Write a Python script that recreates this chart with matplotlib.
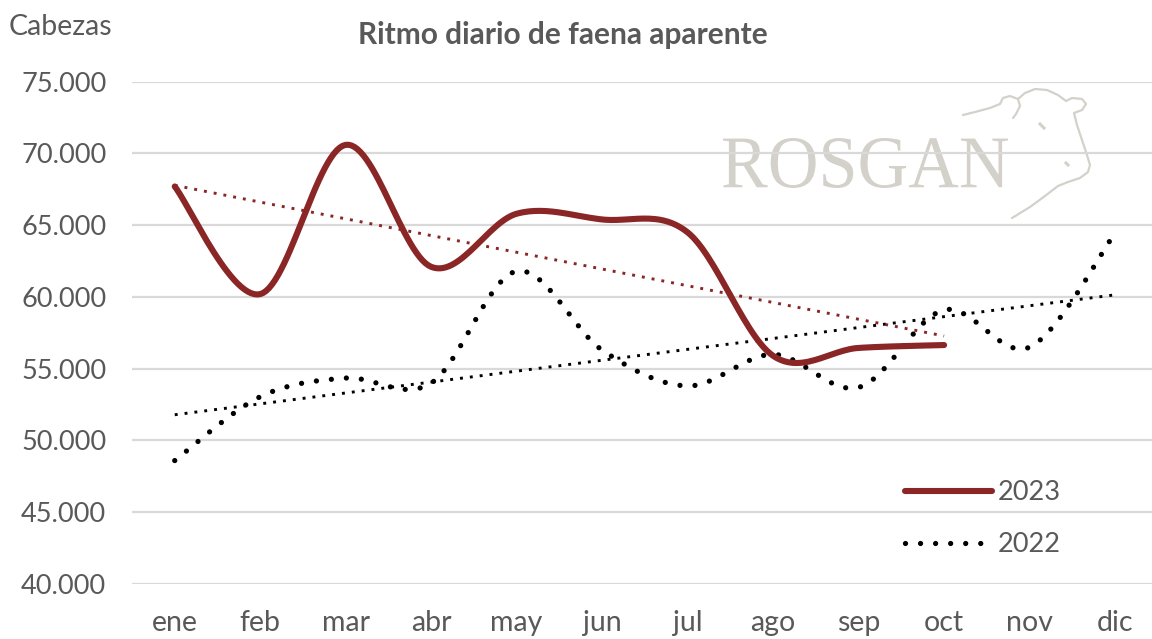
import numpy as np
import matplotlib
matplotlib.use("Agg")
import matplotlib.pyplot as plt
from matplotlib.lines import Line2D
from matplotlib.patches import Rectangle, PathPatch
from matplotlib.textpath import TextPath
from matplotlib.font_manager import FontProperties
from matplotlib.transforms import Affine2D, IdentityTransform

# ---------------- data ----------------
months = ["ene", "feb", "mar", "abr", "may", "jun", "jul", "ago", "sep", "oct", "nov", "dic"]
serie_2023 = [67700, 60200, 70600, 62100, 65800, 65400, 64500, 55900, 56450, 56650]
serie_2022 = [48600, 53050, 54350, 54000, 61800, 56300, 53800, 56000, 53700, 59100, 56500, 64450]
y_ticks = [40000, 45000, 50000, 55000, 60000, 65000, 70000, 75000]
title = "Ritmo diario de faena aparente"
y_title = "Cabezas"
labels = ["2023", "2022"]
watermark = "ROSGAN"

RED = "#8B2626"
GRAY_TXT = "#595959"
GRID = "#D9D9D9"
WM = "#D3D1CA"
FONT = "Lato"

W, H = 1152, 639
fig = plt.figure(figsize=(W / 100, H / 100), dpi=100)


def px(x, y):
    return x / W, 1 - y / H


left, right_edge, top, bottom = 132, 1157.8, 81.7, 584
ax = fig.add_axes([left / W, (H - bottom) / H, (right_edge - left) / W, (bottom - top) / H])
ax.set_xlim(-0.5, 11.5)
ax.set_ylim(40000, 75000)
for s in ax.spines.values():
    s.set_visible(False)
ax.set_yticks(y_ticks)
ax.set_yticklabels([f"{v:,}".replace(",", ".") for v in y_ticks])
ax.set_xticks(range(len(months)))
ax.set_xticklabels(months)
ax.tick_params(length=0, colors=GRAY_TXT)
ax.tick_params(axis="y", pad=18.5, labelsize=19.5)
ax.tick_params(axis="x", pad=19, labelsize=20.5)
for lab in ax.get_xticklabels() + ax.get_yticklabels():
    lab.set_fontfamily(FONT)
ax.grid(axis="y", color=GRID, lw=1.6, zorder=0)
ax.set_axisbelow(True)


def smooth(xs, ys, n=30):
    pts = np.column_stack([xs, ys]).astype(float)
    P = np.vstack([pts[0], pts, pts[-1]])
    out = []
    t = np.linspace(0, 1, n)[:, None]
    for i in range(len(pts) - 1):
        p0, p1, p2, p3 = P[i], P[i + 1], P[i + 2], P[i + 3]
        c1 = p1 + (p2 - p0) / 6
        c2 = p2 - (p3 - p1) / 6
        b = ((1 - t) ** 3) * p1 + 3 * ((1 - t) ** 2) * t * c1 + 3 * (1 - t) * t ** 2 * c2 + t ** 3 * p2
        out.append(b if i == 0 else b[1:])
    out = np.vstack(out)
    return out[:, 0], out[:, 1]


# logo box (white background interrupting gridline) + watermark
x0, y0 = px(720, 215)
x1, y1 = px(1092, 95)
fig.patches.append(Rectangle((x0, y0), x1 - x0, y1 - y0, transform=fig.transFigure,
                             facecolor="white", edgecolor="none", zorder=1))
ax.set_zorder(2)
ax.patch.set_alpha(0)

tp = TextPath((0, 0), watermark, size=1, prop=FontProperties(family="Liberation Serif"))
ext = tp.get_extents()
tx0, tx1, ty_top, ty_bot = 723, 1008, 138, 188
sxw = (tx1 - tx0) / ext.width
syw = (ty_bot - ty_top) / ext.height
tr = Affine2D().translate(-ext.x0, -ext.y0).scale(sxw, syw).translate(tx0, H - ty_bot)
fig.patches.append(PathPatch(tr.transform_path(tp), transform=IdentityTransform(),
                             facecolor=WM, edgecolor="none", zorder=1.5))

head = [(963, 115), (975, 112), (990, 108), (1000, 104), (1003, 98), (1010, 96), (1018, 99),
        (1020, 106), (1016, 114), (1013, 118)]
head2 = [(1018, 99), (1025, 93), (1035, 89), (1047, 90), (1058, 95), (1066, 101),
         (1072, 98), (1082, 99), (1086, 104), (1082, 110), (1074, 113),
         (1077, 125), (1082, 140), (1087, 155), (1090, 165), (1088, 172), (1080, 178),
         (1068, 182), (1058, 186), (1045, 196), (1030, 207), (1012, 218)]
for path in (head, head2):
    xs_, ys_ = zip(*[px(a, b) for a, b in path])
    fig.add_artist(Line2D(xs_, ys_, color=WM, lw=1.6, zorder=1.5, solid_capstyle="round",
                          solid_joinstyle="round"))
fig.add_artist(Line2D(*zip(*[px(1040, 124), px(1044, 128)]), color=WM, lw=2.2, zorder=1.5))
fig.add_artist(Line2D(*zip(*[px(1066, 163), px(1068, 165)]), color=WM, lw=2.2, zorder=1.5))

x23 = np.arange(len(serie_2023))
x22 = np.arange(len(serie_2022))

# trendlines
c23 = np.polyfit(x23, serie_2023, 1)
c22 = np.polyfit(x22, serie_2022, 1)
ax.plot(x22, np.polyval(c22, x22), color="black", lw=2.1, linestyle=(0, (1, 2.4)),
        dash_capstyle="butt", zorder=3)
ax.plot(x23, np.polyval(c23, x23), color=RED, lw=2.1, linestyle=(0, (1, 2.4)),
        dash_capstyle="butt", zorder=3)

sx, sy = smooth(x22, serie_2022)
ax.plot(sx, sy, color="black", lw=3.8, linestyle=(0, (0.001, 2.85)),
        dash_capstyle="round", zorder=4)
sx, sy = smooth(x23, serie_2023)
ax.plot(sx, sy, color=RED, lw=4.4, solid_capstyle="round", zorder=5)

# titles
fig.text(*px(563, 35), title, family=FONT, fontweight="bold", fontsize=21.5,
         color=GRAY_TXT, ha="center", va="center")
fig.text(*px(9, 27), y_title, family=FONT, fontsize=20.5, color=GRAY_TXT,
         ha="left", va="center")

# legend
handles = [Line2D([], [], color=RED, lw=4.4, solid_capstyle="round"),
           Line2D([], [], color="black", lw=3.8, linestyle=(0, (0.001, 2.85)),
                  dash_capstyle="round")]
leg = ax.legend(handles, labels, loc="upper left", bbox_to_anchor=px(881, 456),
                bbox_transform=fig.transFigure, frameon=False, handlelength=3.2,
                handletextpad=0.2, labelspacing=1.0, prop={"family": FONT, "size": 19.5})
for t in leg.get_texts():
    t.set_color(GRAY_TXT)

fig.savefig("out.png", dpi=100, facecolor="white")
